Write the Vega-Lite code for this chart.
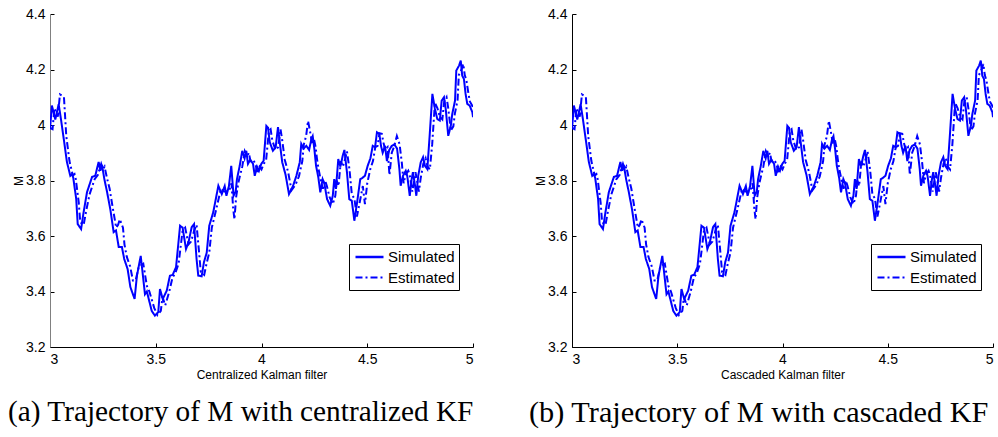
{
  "$schema": "https://vega.github.io/schema/vega-lite/v6.json",
  "background": "white",
  "padding": {"left": 8, "top": 7, "right": 2, "bottom": 0},
  "bounds": "flush",
  "spacing": 99,
  "config": {
    "view": {"stroke": null},
    "font": "Liberation Sans",
    "axis": {
      "grid": false,
      "domainColor": "#000000",
      "domainWidth": 1,
      "tickColor": "#000000",
      "tickSize": -4,
      "labelColor": "#000000",
      "labelFont": "Liberation Sans",
      "labelFontSize": 14,
      "titleFont": "Liberation Sans",
      "titleFontSize": 12,
      "titleFontWeight": "normal",
      "titleColor": "#000000"
    },
    "axisX": {"labelPadding": 9, "titlePadding": 3},
    "axisY": {"labelPadding": 9, "titlePadding": 0},
    "legend": {
      "orient": "none",
      "legendX": 299,
      "legendY": 230,
      "strokeColor": "#000000",
      "fillColor": "#ffffff",
      "padding": 4,
      "cornerRadius": 0,
      "symbolType": "M-0.867,0H2.867",
      "symbolSize": 225,
      "symbolStrokeWidth": 2,
      "symbolStrokeColor": "#0000ff",
      "labelFont": "Liberation Sans",
      "labelFontSize": 15,
      "labelColor": "#000000",
      "labelOffset": 17,
      "rowPadding": 4,
      "title": null
    },
    "title": {"font": "Liberation Serif", "fontSize": 29.3, "fontWeight": "normal", "color": "#000000", "orient": "bottom", "offset": 18, "anchor": "start", "frame": "group"}
  },
  "datasets": {
    "traj": [
      {"t": 3.000, "M": 3.985, "series": "Simulated"},
      {"t": 3.009, "M": 4.070, "series": "Simulated"},
      {"t": 3.025, "M": 4.020, "series": "Simulated"},
      {"t": 3.041, "M": 4.075, "series": "Simulated"},
      {"t": 3.052, "M": 4.020, "series": "Simulated"},
      {"t": 3.065, "M": 3.950, "series": "Simulated"},
      {"t": 3.080, "M": 3.867, "series": "Simulated"},
      {"t": 3.096, "M": 3.817, "series": "Simulated"},
      {"t": 3.104, "M": 3.823, "series": "Simulated"},
      {"t": 3.110, "M": 3.810, "series": "Simulated"},
      {"t": 3.124, "M": 3.733, "series": "Simulated"},
      {"t": 3.131, "M": 3.643, "series": "Simulated"},
      {"t": 3.147, "M": 3.625, "series": "Simulated"},
      {"t": 3.159, "M": 3.686, "series": "Simulated"},
      {"t": 3.175, "M": 3.758, "series": "Simulated"},
      {"t": 3.199, "M": 3.813, "series": "Simulated"},
      {"t": 3.214, "M": 3.817, "series": "Simulated"},
      {"t": 3.230, "M": 3.867, "series": "Simulated"},
      {"t": 3.238, "M": 3.835, "series": "Simulated"},
      {"t": 3.246, "M": 3.856, "series": "Simulated"},
      {"t": 3.257, "M": 3.805, "series": "Simulated"},
      {"t": 3.270, "M": 3.758, "series": "Simulated"},
      {"t": 3.285, "M": 3.697, "series": "Simulated"},
      {"t": 3.301, "M": 3.614, "series": "Simulated"},
      {"t": 3.312, "M": 3.620, "series": "Simulated"},
      {"t": 3.325, "M": 3.560, "series": "Simulated"},
      {"t": 3.340, "M": 3.560, "series": "Simulated"},
      {"t": 3.351, "M": 3.517, "series": "Simulated"},
      {"t": 3.367, "M": 3.481, "series": "Simulated"},
      {"t": 3.380, "M": 3.416, "series": "Simulated"},
      {"t": 3.400, "M": 3.373, "series": "Simulated"},
      {"t": 3.411, "M": 3.457, "series": "Simulated"},
      {"t": 3.429, "M": 3.528, "series": "Simulated"},
      {"t": 3.449, "M": 3.390, "series": "Simulated"},
      {"t": 3.458, "M": 3.400, "series": "Simulated"},
      {"t": 3.481, "M": 3.330, "series": "Simulated"},
      {"t": 3.496, "M": 3.313, "series": "Simulated"},
      {"t": 3.512, "M": 3.326, "series": "Simulated"},
      {"t": 3.520, "M": 3.409, "series": "Simulated"},
      {"t": 3.533, "M": 3.373, "series": "Simulated"},
      {"t": 3.552, "M": 3.403, "series": "Simulated"},
      {"t": 3.567, "M": 3.457, "series": "Simulated"},
      {"t": 3.580, "M": 3.460, "series": "Simulated"},
      {"t": 3.596, "M": 3.488, "series": "Simulated"},
      {"t": 3.615, "M": 3.637, "series": "Simulated"},
      {"t": 3.627, "M": 3.630, "series": "Simulated"},
      {"t": 3.643, "M": 3.553, "series": "Simulated"},
      {"t": 3.655, "M": 3.578, "series": "Simulated"},
      {"t": 3.670, "M": 3.632, "series": "Simulated"},
      {"t": 3.681, "M": 3.643, "series": "Simulated"},
      {"t": 3.693, "M": 3.517, "series": "Simulated"},
      {"t": 3.701, "M": 3.457, "series": "Simulated"},
      {"t": 3.717, "M": 3.455, "series": "Simulated"},
      {"t": 3.728, "M": 3.506, "series": "Simulated"},
      {"t": 3.741, "M": 3.540, "series": "Simulated"},
      {"t": 3.753, "M": 3.637, "series": "Simulated"},
      {"t": 3.772, "M": 3.686, "series": "Simulated"},
      {"t": 3.796, "M": 3.781, "series": "Simulated"},
      {"t": 3.812, "M": 3.751, "series": "Simulated"},
      {"t": 3.826, "M": 3.780, "series": "Simulated"},
      {"t": 3.834, "M": 3.745, "series": "Simulated"},
      {"t": 3.846, "M": 3.780, "series": "Simulated"},
      {"t": 3.857, "M": 3.853, "series": "Simulated"},
      {"t": 3.868, "M": 3.745, "series": "Simulated"},
      {"t": 3.878, "M": 3.760, "series": "Simulated"},
      {"t": 3.884, "M": 3.805, "series": "Simulated"},
      {"t": 3.897, "M": 3.853, "series": "Simulated"},
      {"t": 3.909, "M": 3.907, "series": "Simulated"},
      {"t": 3.920, "M": 3.880, "series": "Simulated"},
      {"t": 3.928, "M": 3.907, "series": "Simulated"},
      {"t": 3.936, "M": 3.860, "series": "Simulated"},
      {"t": 3.947, "M": 3.875, "series": "Simulated"},
      {"t": 3.960, "M": 3.860, "series": "Simulated"},
      {"t": 3.968, "M": 3.817, "series": "Simulated"},
      {"t": 3.979, "M": 3.850, "series": "Simulated"},
      {"t": 3.988, "M": 3.835, "series": "Simulated"},
      {"t": 3.999, "M": 3.860, "series": "Simulated"},
      {"t": 4.010, "M": 3.871, "series": "Simulated"},
      {"t": 4.023, "M": 3.997, "series": "Simulated"},
      {"t": 4.031, "M": 3.990, "series": "Simulated"},
      {"t": 4.039, "M": 3.938, "series": "Simulated"},
      {"t": 4.054, "M": 3.907, "series": "Simulated"},
      {"t": 4.067, "M": 3.920, "series": "Simulated"},
      {"t": 4.078, "M": 3.992, "series": "Simulated"},
      {"t": 4.086, "M": 3.940, "series": "Simulated"},
      {"t": 4.098, "M": 3.866, "series": "Simulated"},
      {"t": 4.114, "M": 3.820, "series": "Simulated"},
      {"t": 4.130, "M": 3.751, "series": "Simulated"},
      {"t": 4.149, "M": 3.780, "series": "Simulated"},
      {"t": 4.165, "M": 3.817, "series": "Simulated"},
      {"t": 4.181, "M": 3.866, "series": "Simulated"},
      {"t": 4.188, "M": 3.932, "series": "Simulated"},
      {"t": 4.199, "M": 3.915, "series": "Simulated"},
      {"t": 4.212, "M": 3.925, "series": "Simulated"},
      {"t": 4.225, "M": 3.910, "series": "Simulated"},
      {"t": 4.236, "M": 3.950, "series": "Simulated"},
      {"t": 4.242, "M": 3.960, "series": "Simulated"},
      {"t": 4.250, "M": 3.913, "series": "Simulated"},
      {"t": 4.258, "M": 3.853, "series": "Simulated"},
      {"t": 4.269, "M": 3.810, "series": "Simulated"},
      {"t": 4.278, "M": 3.757, "series": "Simulated"},
      {"t": 4.289, "M": 3.805, "series": "Simulated"},
      {"t": 4.297, "M": 3.790, "series": "Simulated"},
      {"t": 4.310, "M": 3.733, "series": "Simulated"},
      {"t": 4.325, "M": 3.709, "series": "Simulated"},
      {"t": 4.337, "M": 3.745, "series": "Simulated"},
      {"t": 4.344, "M": 3.805, "series": "Simulated"},
      {"t": 4.352, "M": 3.770, "series": "Simulated"},
      {"t": 4.363, "M": 3.877, "series": "Simulated"},
      {"t": 4.373, "M": 3.850, "series": "Simulated"},
      {"t": 4.384, "M": 3.889, "series": "Simulated"},
      {"t": 4.392, "M": 3.910, "series": "Simulated"},
      {"t": 4.404, "M": 3.830, "series": "Simulated"},
      {"t": 4.415, "M": 3.733, "series": "Simulated"},
      {"t": 4.427, "M": 3.727, "series": "Simulated"},
      {"t": 4.439, "M": 3.655, "series": "Simulated"},
      {"t": 4.452, "M": 3.721, "series": "Simulated"},
      {"t": 4.467, "M": 3.805, "series": "Simulated"},
      {"t": 4.478, "M": 3.810, "series": "Simulated"},
      {"t": 4.489, "M": 3.817, "series": "Simulated"},
      {"t": 4.502, "M": 3.853, "series": "Simulated"},
      {"t": 4.515, "M": 3.880, "series": "Simulated"},
      {"t": 4.526, "M": 3.925, "series": "Simulated"},
      {"t": 4.537, "M": 3.920, "series": "Simulated"},
      {"t": 4.546, "M": 3.974, "series": "Simulated"},
      {"t": 4.557, "M": 3.968, "series": "Simulated"},
      {"t": 4.565, "M": 3.925, "series": "Simulated"},
      {"t": 4.573, "M": 3.900, "series": "Simulated"},
      {"t": 4.584, "M": 3.925, "series": "Simulated"},
      {"t": 4.593, "M": 3.870, "series": "Simulated"},
      {"t": 4.604, "M": 3.910, "series": "Simulated"},
      {"t": 4.616, "M": 3.925, "series": "Simulated"},
      {"t": 4.628, "M": 3.930, "series": "Simulated"},
      {"t": 4.641, "M": 3.915, "series": "Simulated"},
      {"t": 4.652, "M": 3.841, "series": "Simulated"},
      {"t": 4.658, "M": 3.781, "series": "Simulated"},
      {"t": 4.669, "M": 3.817, "series": "Simulated"},
      {"t": 4.682, "M": 3.835, "series": "Simulated"},
      {"t": 4.689, "M": 3.817, "series": "Simulated"},
      {"t": 4.701, "M": 3.745, "series": "Simulated"},
      {"t": 4.710, "M": 3.805, "series": "Simulated"},
      {"t": 4.716, "M": 3.830, "series": "Simulated"},
      {"t": 4.726, "M": 3.781, "series": "Simulated"},
      {"t": 4.732, "M": 3.745, "series": "Simulated"},
      {"t": 4.741, "M": 3.817, "series": "Simulated"},
      {"t": 4.753, "M": 3.866, "series": "Simulated"},
      {"t": 4.764, "M": 3.884, "series": "Simulated"},
      {"t": 4.773, "M": 3.853, "series": "Simulated"},
      {"t": 4.784, "M": 3.841, "series": "Simulated"},
      {"t": 4.795, "M": 3.961, "series": "Simulated"},
      {"t": 4.808, "M": 4.112, "series": "Simulated"},
      {"t": 4.820, "M": 4.058, "series": "Simulated"},
      {"t": 4.831, "M": 4.022, "series": "Simulated"},
      {"t": 4.843, "M": 4.016, "series": "Simulated"},
      {"t": 4.852, "M": 4.088, "series": "Simulated"},
      {"t": 4.863, "M": 4.100, "series": "Simulated"},
      {"t": 4.871, "M": 4.058, "series": "Simulated"},
      {"t": 4.883, "M": 3.961, "series": "Simulated"},
      {"t": 4.895, "M": 3.997, "series": "Simulated"},
      {"t": 4.902, "M": 4.040, "series": "Simulated"},
      {"t": 4.915, "M": 4.088, "series": "Simulated"},
      {"t": 4.921, "M": 4.196, "series": "Simulated"},
      {"t": 4.934, "M": 4.214, "series": "Simulated"},
      {"t": 4.942, "M": 4.232, "series": "Simulated"},
      {"t": 4.949, "M": 4.178, "series": "Simulated"},
      {"t": 4.957, "M": 4.166, "series": "Simulated"},
      {"t": 4.965, "M": 4.112, "series": "Simulated"},
      {"t": 4.973, "M": 4.076, "series": "Simulated"},
      {"t": 4.984, "M": 4.070, "series": "Simulated"},
      {"t": 4.997, "M": 4.046, "series": "Simulated"},
      {"t": 5.000, "M": 4.028, "series": "Simulated"},
      {"t": 3.000, "M": 3.990, "series": "Estimated"},
      {"t": 3.012, "M": 3.985, "series": "Estimated"},
      {"t": 3.021, "M": 4.060, "series": "Estimated"},
      {"t": 3.037, "M": 4.030, "series": "Estimated"},
      {"t": 3.047, "M": 4.110, "series": "Estimated"},
      {"t": 3.058, "M": 4.105, "series": "Estimated"},
      {"t": 3.066, "M": 4.100, "series": "Estimated"},
      {"t": 3.077, "M": 3.960, "series": "Estimated"},
      {"t": 3.092, "M": 3.870, "series": "Estimated"},
      {"t": 3.108, "M": 3.818, "series": "Estimated"},
      {"t": 3.116, "M": 3.823, "series": "Estimated"},
      {"t": 3.122, "M": 3.805, "series": "Estimated"},
      {"t": 3.136, "M": 3.720, "series": "Estimated"},
      {"t": 3.143, "M": 3.650, "series": "Estimated"},
      {"t": 3.159, "M": 3.640, "series": "Estimated"},
      {"t": 3.171, "M": 3.690, "series": "Estimated"},
      {"t": 3.187, "M": 3.750, "series": "Estimated"},
      {"t": 3.211, "M": 3.805, "series": "Estimated"},
      {"t": 3.226, "M": 3.820, "series": "Estimated"},
      {"t": 3.242, "M": 3.860, "series": "Estimated"},
      {"t": 3.250, "M": 3.840, "series": "Estimated"},
      {"t": 3.258, "M": 3.850, "series": "Estimated"},
      {"t": 3.269, "M": 3.810, "series": "Estimated"},
      {"t": 3.282, "M": 3.770, "series": "Estimated"},
      {"t": 3.297, "M": 3.700, "series": "Estimated"},
      {"t": 3.313, "M": 3.630, "series": "Estimated"},
      {"t": 3.322, "M": 3.640, "series": "Estimated"},
      {"t": 3.330, "M": 3.660, "series": "Estimated"},
      {"t": 3.345, "M": 3.630, "series": "Estimated"},
      {"t": 3.352, "M": 3.570, "series": "Estimated"},
      {"t": 3.363, "M": 3.525, "series": "Estimated"},
      {"t": 3.379, "M": 3.490, "series": "Estimated"},
      {"t": 3.392, "M": 3.440, "series": "Estimated"},
      {"t": 3.405, "M": 3.440, "series": "Estimated"},
      {"t": 3.420, "M": 3.490, "series": "Estimated"},
      {"t": 3.441, "M": 3.500, "series": "Estimated"},
      {"t": 3.458, "M": 3.420, "series": "Estimated"},
      {"t": 3.470, "M": 3.400, "series": "Estimated"},
      {"t": 3.493, "M": 3.340, "series": "Estimated"},
      {"t": 3.508, "M": 3.315, "series": "Estimated"},
      {"t": 3.524, "M": 3.330, "series": "Estimated"},
      {"t": 3.532, "M": 3.380, "series": "Estimated"},
      {"t": 3.545, "M": 3.350, "series": "Estimated"},
      {"t": 3.564, "M": 3.400, "series": "Estimated"},
      {"t": 3.579, "M": 3.450, "series": "Estimated"},
      {"t": 3.592, "M": 3.465, "series": "Estimated"},
      {"t": 3.608, "M": 3.500, "series": "Estimated"},
      {"t": 3.627, "M": 3.620, "series": "Estimated"},
      {"t": 3.639, "M": 3.630, "series": "Estimated"},
      {"t": 3.655, "M": 3.570, "series": "Estimated"},
      {"t": 3.667, "M": 3.580, "series": "Estimated"},
      {"t": 3.682, "M": 3.620, "series": "Estimated"},
      {"t": 3.693, "M": 3.640, "series": "Estimated"},
      {"t": 3.705, "M": 3.540, "series": "Estimated"},
      {"t": 3.713, "M": 3.470, "series": "Estimated"},
      {"t": 3.729, "M": 3.460, "series": "Estimated"},
      {"t": 3.740, "M": 3.500, "series": "Estimated"},
      {"t": 3.753, "M": 3.540, "series": "Estimated"},
      {"t": 3.765, "M": 3.630, "series": "Estimated"},
      {"t": 3.784, "M": 3.690, "series": "Estimated"},
      {"t": 3.808, "M": 3.770, "series": "Estimated"},
      {"t": 3.824, "M": 3.760, "series": "Estimated"},
      {"t": 3.838, "M": 3.760, "series": "Estimated"},
      {"t": 3.846, "M": 3.760, "series": "Estimated"},
      {"t": 3.858, "M": 3.790, "series": "Estimated"},
      {"t": 3.866, "M": 3.700, "series": "Estimated"},
      {"t": 3.872, "M": 3.660, "series": "Estimated"},
      {"t": 3.880, "M": 3.740, "series": "Estimated"},
      {"t": 3.890, "M": 3.790, "series": "Estimated"},
      {"t": 3.896, "M": 3.810, "series": "Estimated"},
      {"t": 3.909, "M": 3.850, "series": "Estimated"},
      {"t": 3.921, "M": 3.905, "series": "Estimated"},
      {"t": 3.932, "M": 3.885, "series": "Estimated"},
      {"t": 3.940, "M": 3.900, "series": "Estimated"},
      {"t": 3.948, "M": 3.870, "series": "Estimated"},
      {"t": 3.959, "M": 3.875, "series": "Estimated"},
      {"t": 3.972, "M": 3.860, "series": "Estimated"},
      {"t": 3.980, "M": 3.825, "series": "Estimated"},
      {"t": 3.991, "M": 3.850, "series": "Estimated"},
      {"t": 4.000, "M": 3.840, "series": "Estimated"},
      {"t": 4.011, "M": 3.860, "series": "Estimated"},
      {"t": 4.022, "M": 3.875, "series": "Estimated"},
      {"t": 4.035, "M": 3.980, "series": "Estimated"},
      {"t": 4.043, "M": 3.985, "series": "Estimated"},
      {"t": 4.051, "M": 3.945, "series": "Estimated"},
      {"t": 4.066, "M": 3.910, "series": "Estimated"},
      {"t": 4.079, "M": 3.920, "series": "Estimated"},
      {"t": 4.090, "M": 3.985, "series": "Estimated"},
      {"t": 4.098, "M": 3.945, "series": "Estimated"},
      {"t": 4.110, "M": 3.875, "series": "Estimated"},
      {"t": 4.126, "M": 3.830, "series": "Estimated"},
      {"t": 4.142, "M": 3.765, "series": "Estimated"},
      {"t": 4.161, "M": 3.785, "series": "Estimated"},
      {"t": 4.177, "M": 3.815, "series": "Estimated"},
      {"t": 4.193, "M": 3.870, "series": "Estimated"},
      {"t": 4.200, "M": 3.930, "series": "Estimated"},
      {"t": 4.211, "M": 3.960, "series": "Estimated"},
      {"t": 4.220, "M": 4.015, "series": "Estimated"},
      {"t": 4.230, "M": 3.975, "series": "Estimated"},
      {"t": 4.240, "M": 3.930, "series": "Estimated"},
      {"t": 4.248, "M": 3.950, "series": "Estimated"},
      {"t": 4.256, "M": 3.920, "series": "Estimated"},
      {"t": 4.262, "M": 3.880, "series": "Estimated"},
      {"t": 4.270, "M": 3.840, "series": "Estimated"},
      {"t": 4.281, "M": 3.800, "series": "Estimated"},
      {"t": 4.290, "M": 3.770, "series": "Estimated"},
      {"t": 4.301, "M": 3.800, "series": "Estimated"},
      {"t": 4.309, "M": 3.780, "series": "Estimated"},
      {"t": 4.322, "M": 3.740, "series": "Estimated"},
      {"t": 4.337, "M": 3.715, "series": "Estimated"},
      {"t": 4.349, "M": 3.745, "series": "Estimated"},
      {"t": 4.356, "M": 3.800, "series": "Estimated"},
      {"t": 4.364, "M": 3.780, "series": "Estimated"},
      {"t": 4.375, "M": 3.870, "series": "Estimated"},
      {"t": 4.385, "M": 3.850, "series": "Estimated"},
      {"t": 4.396, "M": 3.880, "series": "Estimated"},
      {"t": 4.404, "M": 3.905, "series": "Estimated"},
      {"t": 4.416, "M": 3.840, "series": "Estimated"},
      {"t": 4.427, "M": 3.750, "series": "Estimated"},
      {"t": 4.439, "M": 3.735, "series": "Estimated"},
      {"t": 4.451, "M": 3.670, "series": "Estimated"},
      {"t": 4.464, "M": 3.720, "series": "Estimated"},
      {"t": 4.479, "M": 3.780, "series": "Estimated"},
      {"t": 4.489, "M": 3.715, "series": "Estimated"},
      {"t": 4.500, "M": 3.790, "series": "Estimated"},
      {"t": 4.514, "M": 3.840, "series": "Estimated"},
      {"t": 4.527, "M": 3.870, "series": "Estimated"},
      {"t": 4.538, "M": 3.920, "series": "Estimated"},
      {"t": 4.549, "M": 3.925, "series": "Estimated"},
      {"t": 4.558, "M": 3.970, "series": "Estimated"},
      {"t": 4.569, "M": 3.968, "series": "Estimated"},
      {"t": 4.577, "M": 3.935, "series": "Estimated"},
      {"t": 4.585, "M": 3.910, "series": "Estimated"},
      {"t": 4.596, "M": 3.920, "series": "Estimated"},
      {"t": 4.605, "M": 3.820, "series": "Estimated"},
      {"t": 4.616, "M": 3.900, "series": "Estimated"},
      {"t": 4.628, "M": 3.925, "series": "Estimated"},
      {"t": 4.640, "M": 3.960, "series": "Estimated"},
      {"t": 4.653, "M": 3.930, "series": "Estimated"},
      {"t": 4.664, "M": 3.860, "series": "Estimated"},
      {"t": 4.672, "M": 3.790, "series": "Estimated"},
      {"t": 4.681, "M": 3.820, "series": "Estimated"},
      {"t": 4.694, "M": 3.835, "series": "Estimated"},
      {"t": 4.701, "M": 3.820, "series": "Estimated"},
      {"t": 4.713, "M": 3.760, "series": "Estimated"},
      {"t": 4.722, "M": 3.800, "series": "Estimated"},
      {"t": 4.728, "M": 3.830, "series": "Estimated"},
      {"t": 4.738, "M": 3.790, "series": "Estimated"},
      {"t": 4.744, "M": 3.760, "series": "Estimated"},
      {"t": 4.753, "M": 3.810, "series": "Estimated"},
      {"t": 4.765, "M": 3.860, "series": "Estimated"},
      {"t": 4.776, "M": 3.880, "series": "Estimated"},
      {"t": 4.785, "M": 3.850, "series": "Estimated"},
      {"t": 4.796, "M": 3.840, "series": "Estimated"},
      {"t": 4.807, "M": 3.930, "series": "Estimated"},
      {"t": 4.820, "M": 4.080, "series": "Estimated"},
      {"t": 4.832, "M": 4.060, "series": "Estimated"},
      {"t": 4.843, "M": 4.030, "series": "Estimated"},
      {"t": 4.855, "M": 4.020, "series": "Estimated"},
      {"t": 4.864, "M": 4.085, "series": "Estimated"},
      {"t": 4.875, "M": 4.100, "series": "Estimated"},
      {"t": 4.883, "M": 4.060, "series": "Estimated"},
      {"t": 4.895, "M": 3.980, "series": "Estimated"},
      {"t": 4.907, "M": 3.995, "series": "Estimated"},
      {"t": 4.914, "M": 4.040, "series": "Estimated"},
      {"t": 4.927, "M": 4.090, "series": "Estimated"},
      {"t": 4.933, "M": 4.180, "series": "Estimated"},
      {"t": 4.946, "M": 4.200, "series": "Estimated"},
      {"t": 4.954, "M": 4.220, "series": "Estimated"},
      {"t": 4.961, "M": 4.180, "series": "Estimated"},
      {"t": 4.969, "M": 4.160, "series": "Estimated"},
      {"t": 4.977, "M": 4.120, "series": "Estimated"},
      {"t": 4.985, "M": 4.085, "series": "Estimated"},
      {"t": 4.996, "M": 4.070, "series": "Estimated"},
      {"t": 5.000, "M": 4.060, "series": "Estimated"}
    ]
  },
  "hconcat": [
    {
      "width": 423,
      "height": 333,
      "title": {"text": "(a) Trajectory of M with centralized KF", "dx": -42},
      "data": {"name": "traj"},
      "mark": {"type": "line", "color": "#0000ff", "strokeWidth": 2, "clip": true},
      "encoding": {
        "x": {"field": "t", "type": "quantitative", "scale": {"domain": [3, 5], "nice": false, "zero": false},
              "axis": {"title": "Centralized Kalman filter", "values": [3, 3.5, 4, 4.5, 5], "format": "~g"}},
        "y": {"field": "M", "type": "quantitative", "scale": {"domain": [3.2, 4.4], "nice": false, "zero": false},
              "axis": {"title": "M", "values": [3.2, 3.4, 3.6, 3.8, 4, 4.2, 4.4], "format": "~g", "domainColor": "#808080"}},
        "strokeDash": {"field": "series", "type": "nominal",
                       "scale": {"domain": ["Simulated", "Estimated"], "range": [[1, 0], [7, 3, 2, 3]]},
                       "legend": {"orient": "none"}},
        "strokeWidth": {"field": "series", "type": "nominal",
                        "scale": {"domain": ["Simulated", "Estimated"], "range": [2.4, 1.8]}, "legend": null}
      }
    },
    {
      "width": 421,
      "height": 333,
      "title": {"text": "(b) Trajectory of M with cascaded KF", "dx": -43, "fontSize": 30.3},
      "data": {"name": "traj"},
      "mark": {"type": "line", "color": "#0000ff", "strokeWidth": 2, "clip": true},
      "encoding": {
        "x": {"field": "t", "type": "quantitative", "scale": {"domain": [3, 5], "nice": false, "zero": false},
              "axis": {"title": "Cascaded Kalman filter", "values": [3, 3.5, 4, 4.5, 5], "format": "~g"}},
        "y": {"field": "M", "type": "quantitative", "scale": {"domain": [3.2, 4.4], "nice": false, "zero": false},
              "axis": {"title": "M", "values": [3.2, 3.4, 3.6, 3.8, 4, 4.2, 4.4], "format": "~g"}},
        "strokeDash": {"field": "series", "type": "nominal",
                       "scale": {"domain": ["Simulated", "Estimated"], "range": [[1, 0], [7, 3, 2, 3]]},
                       "legend": {"orient": "none"}},
        "strokeWidth": {"field": "series", "type": "nominal",
                        "scale": {"domain": ["Simulated", "Estimated"], "range": [2.4, 1.8]}, "legend": null}
      }
    }
  ],
  "resolve": {"scale": {"strokeDash": "independent", "strokeWidth": "independent"}, "legend": {"strokeDash": "independent"}}
}
